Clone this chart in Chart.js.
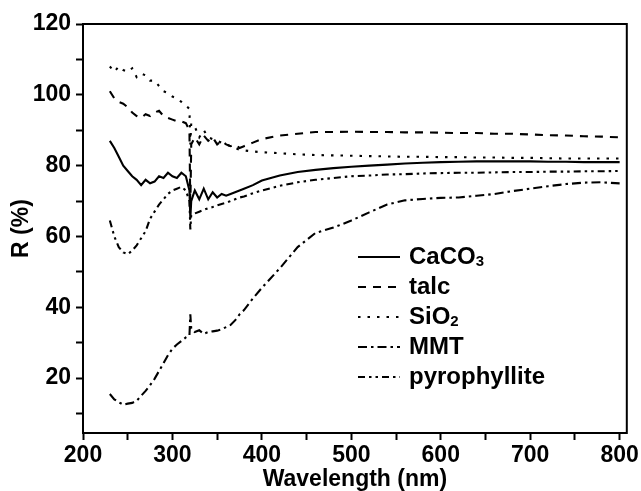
<!DOCTYPE html>
<html>
<head>
<meta charset="utf-8">
<script src="https://cdn.jsdelivr.net/npm/chart.js@4.4.1/dist/chart.umd.min.js"></script>
<style>
html,body{margin:0;padding:0;background:#fff;}
canvas{display:block;}
</style>
</head>
<body>
<canvas id="c" width="641" height="491"></canvas>
<script>
// Wavelength (nm)
const wavelengths = [230,235,240,245,250,255,260,265,270,275,280,285,290,295,300,305,310,315,319,320,321,325,330,335,340,345,350,355,360,365,370,375,380,390,400,420,440,460,480,500,520,540,560,580,600,620,640,660,680,700,720,740,760,780,800];

const caco3 = [87,85,82.5,80,78.5,77,76,74.5,76,75,75.5,77,76.5,78,77,76.5,78,77,73,65,70,73,70.5,73.5,70.5,72.5,71,72,71.5,72,72.5,73,73.5,74.5,75.8,77.2,78.2,78.8,79.3,79.7,80,80.3,80.6,80.8,81,81.1,81.2,81.2,81.2,81.2,81.1,81.1,81,81,81];
const talc = [101,99,98,97.5,96.5,95,94,93.5,94.5,94,95,95.5,94,93.5,93,92.5,92.5,92,90,68,86,88,86,88.5,87,88,86,87,86,85.5,86,85,85.5,86.5,87.5,88.5,89,89.5,89.5,89.6,89.5,89.5,89.4,89.4,89.3,89.2,89.2,89,89,88.8,88.6,88.5,88.3,88.2,88];
const sio2 = [108,106.5,108,107,106.5,107.5,105,106,105.5,104,104,102.5,101,100.5,99.5,99,98,97,96,86,92,91,88,90,88,87.5,87,86.5,86,85.5,85,84.5,84.3,84,83.8,83.5,83.2,83,82.9,82.8,82.7,82.6,82.5,82.5,82.4,82.4,82.3,82.3,82.2,82.2,82.1,82,82,82,82];
const mmt = [15.5,14,13.2,12.5,12.8,13,13.6,15,16.4,18,19.8,22,24.2,26.5,28.3,29.5,30.5,31.5,32,38,34,33,33.5,32.5,33,33.2,33.4,33.8,34.4,35,36.3,38,39.2,42.5,45.5,51,57,61,62.5,64.5,66.8,69,70.2,70.6,70.9,71,71.5,72,72.8,73.5,74.2,74.8,75.2,75.3,75];
const pyrophyllite = [64.5,60,57,55.5,55,56,57.5,59.5,61.5,65,67,69,70.5,72,73,73.5,74,73,70,62,66,66.5,67,67.5,68,68.3,68.8,69.2,69.5,70,70.5,71,71.3,72.2,73,74.3,75.3,76,76.5,77,77.2,77.5,77.6,77.8,77.9,78,78,78.1,78.2,78.2,78.3,78.3,78.4,78.4,78.5];

const seriesNames = ['CaCO3','talc','SiO2','MMT','pyrophyllite'];
const seriesValues = [caco3, talc, sio2, mmt, pyrophyllite];
const seriesDashes = [[], [8,7], [2.5,7], [9,4,2.5,4], [7,4,2.5,4,2.5,4]];

const FONT = "'Liberation Sans', Arial, Helvetica, sans-serif";

const datasets = seriesNames.map((name, k) => ({
  label: name,
  data: wavelengths.map((w, i) => ({x: w, y: seriesValues[k][i]})),
  borderColor: '#000',
  borderWidth: 2.1,
  borderDash: seriesDashes[k],
  pointRadius: 0,
  tension: 0,
  fill: false
}));

const frameAndLegend = {
  id: 'frameAndLegend',
  afterDatasetsDraw(chart) {
    const ctx = chart.ctx;
    const a = chart.chartArea;
    ctx.save();
    ctx.strokeStyle = '#000';
    ctx.lineWidth = 2;
    ctx.setLineDash([]);
    ctx.strokeRect(a.left, a.top, a.right - a.left, a.bottom - a.top);
    // legend
    const x0 = 358, x1 = 400, tx = 409, y0 = 257, dy = 30;
    chart.data.datasets.forEach((ds, i) => {
      const y = y0 + i * dy;
      ctx.beginPath();
      ctx.setLineDash(ds.borderDash || []);
      ctx.lineWidth = 2;
      ctx.moveTo(x0, y);
      ctx.lineTo(x1, y);
      ctx.stroke();
      ctx.setLineDash([]);
      ctx.fillStyle = '#000';
      ctx.textBaseline = 'middle';
      ctx.textAlign = 'left';
      let x = tx;
      const parts = ds.label.match(/\d+|\D+/g);
      parts.forEach(p => {
        if (/^\d+$/.test(p)) {
          ctx.font = 'bold 15px ' + FONT;
          ctx.fillText(p, x, y + 5);
        } else {
          ctx.font = 'bold 24px ' + FONT;
          ctx.fillText(p, x, y);
        }
        x += ctx.measureText(p).width;
      });
    });
    ctx.restore();
  }
};

new Chart(document.getElementById('c'), {
  type: 'line',
  data: { datasets },
  plugins: [frameAndLegend],
  options: {
    responsive: false,
    animation: false,
    devicePixelRatio: 1,
    layout: { padding: { top: 24, right: 13, left: 0, bottom: 0 } },
    plugins: { legend: { display: false }, tooltip: { enabled: false } },
    scales: {
      x: {
        type: 'linear',
        min: 200, max: 808,
        afterFit: (s) => { s.height = 58; },
        border: { display: true, color: '#000', width: 2 },
        grid: { drawOnChartArea: false, drawTicks: true, tickLength: 7, tickColor: '#000', tickWidth: 2 },
        ticks: {
          stepSize: 50, autoSkip: false, maxRotation: 0, includeBounds: false,
          color: '#000', padding: 2,
          font: { family: FONT, size: 23, weight: 'bold' },
          callback: (v) => (v % 100 === 0 ? String(v) : '')
        },
        title: {
          display: true, text: 'Wavelength (nm)', color: '#000',
          padding: { top: 0, bottom: 0 },
          font: { family: FONT, size: 23, weight: 'bold', lineHeight: 1 }
        }
      },
      y: {
        type: 'linear',
        min: 4.5, max: 120,
        afterFit: (s) => { s.width = 83; },
        border: { display: true, color: '#000', width: 2 },
        grid: { drawOnChartArea: false, drawTicks: true, tickLength: 7, tickColor: '#000', tickWidth: 2 },
        ticks: {
          stepSize: 10, autoSkip: false, includeBounds: false,
          color: '#000', padding: 5,
          font: { family: FONT, size: 23, weight: 'bold' },
          callback: (v) => (v % 20 === 0 ? String(v) : '')
        },
        title: {
          display: true, text: 'R (%)', color: '#000',
          padding: { top: 10, bottom: 0 },
          font: { family: FONT, size: 23, weight: 'bold', lineHeight: 1 }
        }
      }
    }
  }
});
</script>
</body>
</html>
